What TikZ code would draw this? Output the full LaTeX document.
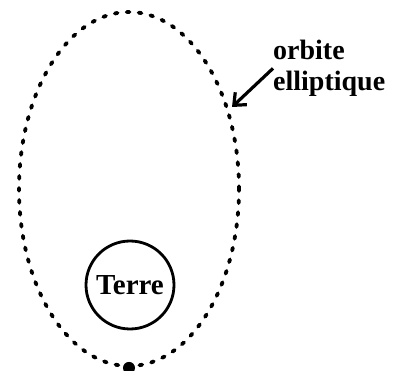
\documentclass[tikz,border=0pt]{standalone}
\usepackage{fontspec}
\setmainfont{Liberation Serif}
\usetikzlibrary{shapes.geometric,arrows.meta,positioning}

\tikzstyle{orbit} = [ellipse, draw, line width=3.8pt, dash pattern=on 2.8pt off 9.2pt, line cap=round, minimum width=220pt, minimum height=354pt, inner sep=0]
\tikzstyle{planet} = [circle, draw, line width=2.8pt, minimum size=88pt, inner sep=0, font=\fontsize{29pt}{34pt}\selectfont\bfseries]
\tikzstyle{caption} = [align=left, inner sep=0, font=\fontsize{28pt}{31pt}\selectfont\bfseries]
\tikzstyle{arrow} = [draw, line width=3.2pt, -{Straight Barb[length=10pt,width=17pt]}]

\begin{document}
\begin{tikzpicture}[x=1pt, y=-1pt]
    \useasboundingbox (0,0) rectangle (399,371);

    \node[orbit] (orbite) at (129,189) {};
    \node[planet] (terre) at (130,285) {Terre};
    \node[circle, fill, inner sep=0, minimum size=12pt] (sat) at (orbite.south) {};

    \node[caption, anchor=north west] (nom) at (273,40) {orbite\\elliptique};
    \coordinate (tip) at (232,107);

    % arrow
    \draw [arrow] (nom.west) to (tip);
\end{tikzpicture}
\end{document}
